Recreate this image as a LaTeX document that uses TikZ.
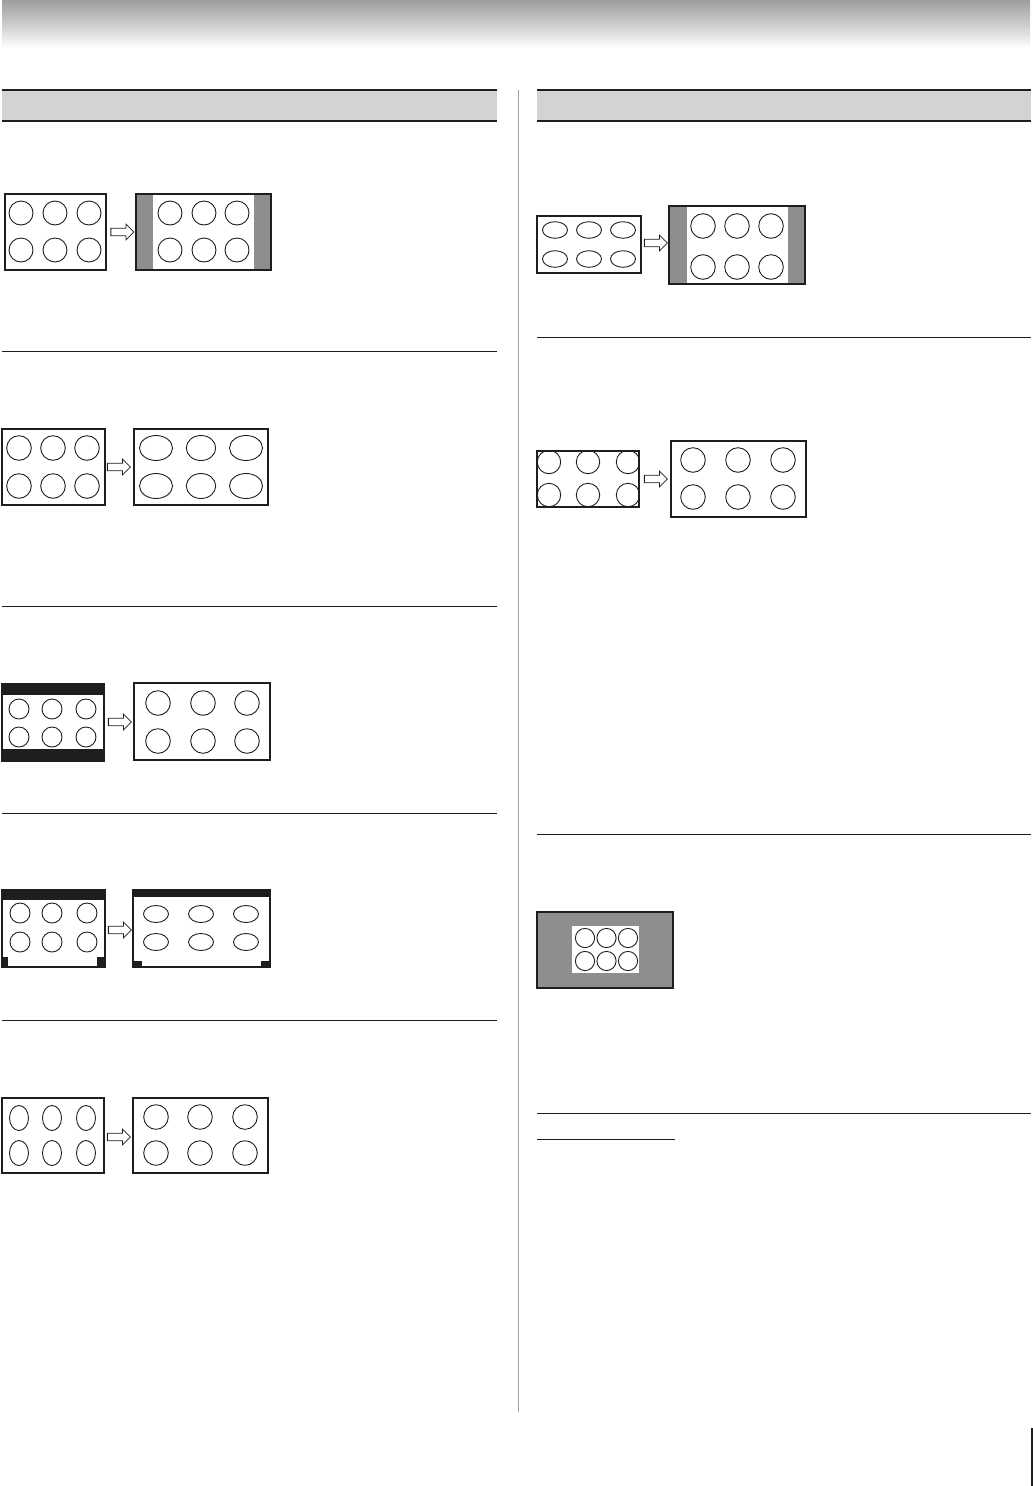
\documentclass[tikz,border=0pt]{standalone}
\usetikzlibrary{positioning,shapes.arrows,backgrounds}
\definecolor{tvink}{HTML}{1E1E1E}
\definecolor{tvpillar}{HTML}{8E8E8E}
\definecolor{tvhead}{HTML}{D3D3D3}
\definecolor{tvrule}{HTML}{A0A0A0}
\begin{document}
\begin{tikzpicture}[x=1pt, y=-1pt,
  screen/.style={draw=tvink, line width=2.2pt, inner sep=0pt},
  blob/.style={draw=tvink, line width=0.9pt},
  pillar/.style={fill=tvpillar},
  band/.style={fill=tvink},
  zoomarrow/.style={single arrow, draw=tvink, fill=white, line width=0.8pt,
    minimum height=23pt, inner xsep=0pt, inner ysep=3.3pt,
    single arrow head extend=4.2pt},
  rule/.style={draw=tvink, line width=1.3pt},
  thinrule/.style={draw=tvink, line width=1pt}]
  \useasboundingbox (0,0) rectangle (1033,1486);
  \shade[top color=black!38, bottom color=white, middle color=black!20] (2,0) rectangle (1030,48);
  \fill[tvhead] (2,90) rectangle (497,121);
  \fill[tvhead] (537,90) rectangle (1031,121);
  \foreach \y in {90,121} {
    \draw[rule] (2,\y) -- (497,\y);
    \draw[rule] (537,\y) -- (1031,\y);
  }
  \draw[tvrule, line width=1pt] (518,90) -- (518,1412);
  \foreach \y in {351,606,813,1020} \draw[thinrule] (2,\y) -- (497,\y);
  \foreach \y in {337,834,1113} \draw[thinrule] (537,\y) -- (1031,\y);
  \draw[thinrule] (537,1139) -- (675,1139);
  \draw[tvink, line width=2pt] (1032,1428) -- (1032,1486);

  \node[screen, minimum width=101pt, minimum height=76pt] (natIn) at (55.5,232) {};
  \node[zoomarrow] (natArr) at (120.5,232) {};
  \node[screen, minimum width=135pt, minimum height=76pt] (natOut) at (203.5,232) {};

  \node[screen, minimum width=103pt, minimum height=76pt] (twOneIn) at (53.5,467) {};
  \node[zoomarrow] (twOneArr) at (117,467) {};
  \node[screen, minimum width=134pt, minimum height=76pt] (twOneOut) at (201,467) {};

  \node[screen, minimum width=102pt, minimum height=77pt] (twTwoIn) at (53,722.5) {};
  \node[zoomarrow] (twTwoArr) at (118,722) {};
  \node[screen, minimum width=136pt, minimum height=77pt] (twTwoOut) at (202,721.5) {};

  \node[screen, minimum width=103pt, minimum height=77pt] (twThreeIn) at (53.5,928.5) {};
  \node[zoomarrow] (twThreeArr) at (118,930) {};
  \node[screen, minimum width=137pt, minimum height=77pt] (twThreeOut) at (201.5,928.5) {};

  \node[screen, minimum width=102pt, minimum height=75pt] (fullIn) at (53,1135.5) {};
  \node[zoomarrow] (fullArr) at (117,1137) {};
  \node[screen, minimum width=135pt, minimum height=75pt] (fullOut) at (200.5,1135.5) {};

  \node[screen, minimum width=104pt, minimum height=57pt] (sqIn) at (589,244.5) {};
  \node[zoomarrow] (sqArr) at (654,243) {};
  \node[screen, minimum width=136pt, minimum height=78pt] (sqOut) at (737,245) {};

  \node[screen, minimum width=102pt, minimum height=56pt] (nativeIn) at (588,479) {};
  \node[zoomarrow] (nativeArr) at (654,479) {};
  \node[screen, minimum width=135pt, minimum height=76pt] (nativeOut) at (738.5,479) {};

  \node[screen, fill=tvpillar, minimum width=136pt, minimum height=76pt] (dotScreen) at (605,950) {};
  \fill[white] (572,926) rectangle (639,973);
  \foreach \x in {585,606.5,628} \foreach \y in {938,961}
    \draw[blob] (\x,\y) circle [radius=9.6pt];

  \begin{scope}[on background layer]
    \foreach \x in {21,55,89} \foreach \y in {213,250}
      \draw[blob] (\x,\y) circle [radius=12pt];
    \fill[pillar] (136,194) rectangle (153,270);
    \fill[pillar] (254,194) rectangle (271,270);
    \foreach \x in {170,204,237} \foreach \y in {213,250}
      \draw[blob] (\x,\y) circle [radius=12pt];

    \foreach \x in {19,53,87} \foreach \y in {448,486}
      \draw[blob] (\x,\y) circle [radius=12.3pt];
    \foreach \x/\r in {156/16.5,201/14.7,246/16.5} \foreach \y in {448,486}
      \draw[blob] (\x,\y) ellipse [x radius=\r*1pt, y radius=12.5pt];

    \fill[band] (2,684) rectangle (104,695);
    \fill[band] (2,749) rectangle (104,761);
    \foreach \x in {19,52,86} \foreach \y in {709,737}
      \draw[blob] (\x,\y) circle [radius=10pt];
    \foreach \x in {158,203,247} \foreach \y in {703,741}
      \draw[blob] (\x,\y) circle [radius=12.3pt];

    \fill[band] (2,890) rectangle (105,900);
    \fill[band] (2,957) rectangle (8,967);
    \fill[band] (97,957) rectangle (105,967);
    \foreach \x in {20,52,87} \foreach \y in {913,942}
      \draw[blob] (\x,\y) circle [radius=10pt];
    \fill[band] (133,890) rectangle (270,897);
    \fill[band] (133,961) rectangle (142,967);
    \fill[band] (261,961) rectangle (270,967);
    \foreach \x in {156,201,246} \foreach \y in {914,942}
      \draw[blob] (\x,\y) ellipse [x radius=12.5pt, y radius=8.5pt];

    \foreach \x in {19,52,86} \foreach \y in {1118,1153}
      \draw[blob] (\x,\y) ellipse [x radius=9.5pt, y radius=12.5pt];
    \foreach \x in {156,200,245} \foreach \y in {1117,1153}
      \draw[blob] (\x,\y) circle [radius=12.3pt];

    \foreach \x in {555,589,623} \foreach \y in {230,259}
      \draw[blob] (\x,\y) ellipse [x radius=12.5pt, y radius=8.3pt];
    \fill[pillar] (669,206) rectangle (687,284);
    \fill[pillar] (788,206) rectangle (805,284);
    \foreach \x in {703,737,771} \foreach \y in {226,267}
      \draw[blob] (\x,\y) circle [radius=12.3pt];

    \begin{scope}
      \clip (537,451) rectangle (639,507);
      \foreach \x in {549,588,628} \foreach \y in {462,495}
        \draw[blob] (\x,\y) circle [radius=11.7pt];
    \end{scope}
    \foreach \x in {693,738,783} \foreach \y in {460,497}
      \draw[blob] (\x,\y) circle [radius=12.3pt];
  \end{scope}
\end{tikzpicture}
\end{document}
